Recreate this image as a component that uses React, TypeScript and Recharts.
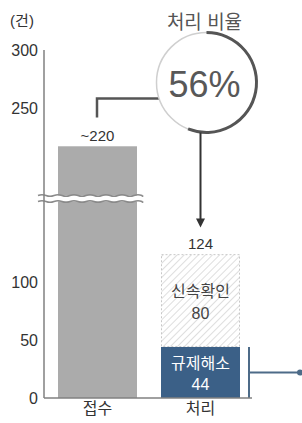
import React from 'react';
import { BarChart, Bar, XAxis, YAxis, LabelList, ReferenceDot } from 'recharts';

const categories = ['접수', '처리'];
const receivedValues = [217, 0];
const resolvedValues = [0, 44];
const confirmedValues = [0, 80];
const totalLabels = ['', '124'];
const receivedLabels = ['~220', ''];
const seriesNames = { received: '접수', resolved: '규제해소', confirmed: '신속확인' };
const yTicks = [0, 50, 100, 250, 300];
const ratioTitle = '처리 비율';
const ratioText = '56%';
const ratioValue = 0.56;
const ratioAnchorValue = 272;
const breakValue = 172;
const unitLabel = '(건)';

const data = categories.map((name, i) => ({
  name,
  received: receivedValues[i],
  resolved: resolvedValues[i],
  confirmed: confirmedValues[i],
  total: totalLabels[i],
  receivedLabel: receivedLabels[i],
}));

const FONT = '"Liberation Sans", Arial, "Noto Sans CJK KR", sans-serif';
const TEXT = '#333333';
const GRAY_BAR = '#ababab';
const BLUE = '#3b6087';
const AXIS = '#808080';

function wave(x0: number, x1: number, y: number, amp: number, period: number) {
  const pts: string[] = [];
  pts.push(`M${x0},${y}`);
  let x = x0;
  let up = true;
  while (x < x1) {
    const nx = Math.min(x + period / 2, x1);
    pts.push(`Q${(x + nx) / 2},${y + (up ? -amp : amp)} ${nx},${y}`);
    up = !up;
    x = nx;
  }
  return pts.join(' ');
}

const ReceivedShape = (props: any) => {
  const { x, y, width, height, payload } = props;
  if (!height || height <= 0) return null;
  const v = payload.received;
  const by = y + height - height * (breakValue / v);
  const x0 = x - 20;
  const x1 = x + width + 6;
  const top = wave(x0, x1, by - 3, 1.6, 16);
  const bot = wave(x0, x1, by + 3, 1.6, 16);
  return (
    <g>
      <rect x={x} y={y} width={width} height={height} fill={GRAY_BAR} />
      <rect x={x0} y={by - 3} width={x1 - x0} height={6} fill="#fff" />
      <path d={top} fill="none" stroke="#8a8a8a" strokeWidth={1.5} />
      <path d={bot} fill="none" stroke="#8a8a8a" strokeWidth={1.5} />
    </g>
  );
};

const ResolvedShape = (props: any) => {
  const { x, y, width, height } = props;
  if (!height || height <= 0) return null;
  const bx = x + width + 9;
  const my = y + height / 2;
  return (
    <g>
      <rect x={x} y={y} width={width} height={height} fill={BLUE} />
      <line x1={bx} y1={y} x2={bx} y2={y + height} stroke="#4d6b88" strokeWidth={2} />
      <line x1={bx} y1={my} x2={bx + 50} y2={my} stroke="#4d6b88" strokeWidth={2} />
      <circle cx={bx + 51} cy={my} r={3} fill="#4d6b88" />
    </g>
  );
};

const ConfirmedShape = (props: any) => {
  const { x, y, width, height } = props;
  if (!height || height <= 0) return null;
  return (
    <rect
      x={x + 0.5}
      y={y + 0.5}
      width={width - 1}
      height={height - 1}
      fill="url(#hatch)"
      stroke="#c8c8c8"
      strokeDasharray="2 2"
      strokeWidth={1}
    />
  );
};

const makeInnerLabel = (name: string, color: string) => (props: any) => {
  const { x, y, width, height, value } = props;
  if (!value) return null;
  const cx = x + width / 2;
  const cy = y + height / 2;
  return (
    <g>
      <text x={cx} y={cy - 9} textAnchor="middle" dominantBaseline="central" fontSize={16} fill={color} fontFamily={FONT}>
        {name}
      </text>
      <text x={cx} y={cy + 12.5} textAnchor="middle" dominantBaseline="central" fontSize={16} fill={color} fontFamily={FONT}>
        {value}
      </text>
    </g>
  );
};

const RatioShape = (props: any) => {
  const { cx, cy } = props;
  const r = 50;
  const ccx = cx + 6;
  const ang = ratioValue * 2 * Math.PI;
  const ex = ccx + r * Math.sin(ang);
  const ey = cy - r * Math.cos(ang);
  const large = ratioValue > 0.5 ? 1 : 0;
  const connY = cy + 16;
  const connX = ccx - Math.sqrt(r * r - 16 * 16);
  const leftX = cx - 103.5;
  const tipY = cy + 145;
  return (
    <g>
      <polyline
        points={`${leftX},${cy + 35} ${leftX},${connY} ${connX},${connY}`}
        fill="none"
        stroke="#555"
        strokeWidth={2.5}
      />
      <circle cx={ccx} cy={cy} r={r} fill="#fff" stroke="#cfcfcf" strokeWidth={1.5} />
      <path d={`M${ccx},${cy - r} A${r},${r} 0 ${large} 1 ${ex},${ey}`} fill="none" stroke="#555" strokeWidth={3} />
      <text x={ccx - 2} y={cy + 15} textAnchor="middle" fontSize={36} fill="#585858" fontFamily={FONT}>
        {ratioText}
      </text>
      <text x={ccx - 2} y={cy - 60} textAnchor="middle" dominantBaseline="central" fontSize={19} fill="#555" fontFamily={FONT}>
        {ratioTitle}
      </text>
      <line x1={cx} y1={cy + r} x2={cx} y2={tipY - 7} stroke="#333" strokeWidth={2} />
      <polygon points={`${cx - 4.5},${tipY - 9} ${cx + 4.5},${tipY - 9} ${cx},${tipY}`} fill="#333" />
    </g>
  );
};

export default function App() {
  return (
    <div style={{ position: 'fixed', left: 0, top: 0, background: '#fff' }}>
      <BarChart
        width={302}
        height={423}
        data={data}
        margin={{ top: 50, right: 50, bottom: 0, left: 0 }}
        barSize={79}
      >
        <defs>
          <pattern id="hatch" patternUnits="userSpaceOnUse" width={5} height={5} patternTransform="rotate(45)">
            <rect width={5} height={5} fill="#fff" />
            <line x1={0} y1={0} x2={0} y2={5} stroke="#d0d0d0" strokeWidth={1.4} />
          </pattern>
        </defs>
        <YAxis
          type="number"
          domain={[0, 300]}
          ticks={yTicks}
          interval={0}
          width={44}
          tickLine={false}
          tickSize={4}
          tickMargin={2}
          axisLine={{ stroke: AXIS, strokeWidth: 1.5 }}
          tick={{ fontSize: 16, fill: TEXT, fontFamily: FONT }}
          label={{ value: unitLabel, position: 'top', offset: 24, fontSize: 15, fill: TEXT, fontFamily: FONT }}
        />
        <XAxis
          dataKey="name"
          height={25}
          padding={{ left: 2, right: 0 }}
          tickLine={false}
          tickSize={0}
          tickMargin={5}
          axisLine={{ stroke: AXIS, strokeWidth: 1.5 }}
          tick={{ fontSize: 16, fill: TEXT, fontFamily: FONT }}
        />
        <Bar dataKey="received" name={seriesNames.received} stackId="a" isAnimationActive={false} shape={ReceivedShape}>
          <LabelList dataKey="receivedLabel" position="top" offset={5} fontSize={15} fill={TEXT} fontFamily={FONT} />
        </Bar>
        <Bar dataKey="resolved" name={seriesNames.resolved} stackId="a" isAnimationActive={false} shape={ResolvedShape}>
          <LabelList dataKey="resolved" content={makeInnerLabel(seriesNames.resolved, '#ffffff')} />
        </Bar>
        <Bar dataKey="confirmed" name={seriesNames.confirmed} stackId="a" isAnimationActive={false} shape={ConfirmedShape}>
          <LabelList dataKey="confirmed" content={makeInnerLabel(seriesNames.confirmed, '#444')} />
          <LabelList dataKey="total" position="top" offset={5} fontSize={15} fill={TEXT} fontFamily={FONT} />
        </Bar>
        <ReferenceDot x="처리" y={ratioAnchorValue} r={0} isFront shape={RatioShape} />
      </BarChart>
    </div>
  );
}
